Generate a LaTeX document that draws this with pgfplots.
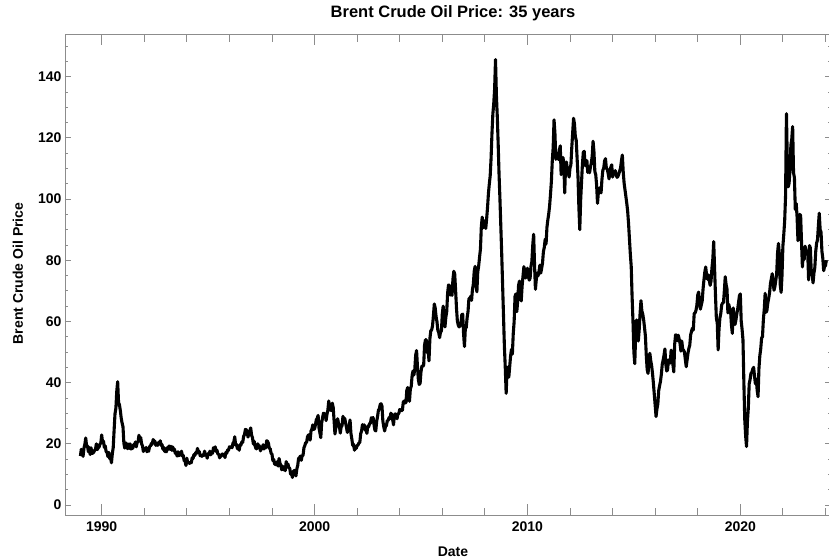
\documentclass[border=0pt]{standalone}
\usepackage{fontspec}
\setmainfont{Liberation Sans}
\usepackage{pgfplots}
\pgfplotsset{compat=1.18}
\usepackage{pgfplotstable}

\definecolor{framegray}{gray}{0.55}

% Brent crude, two readings per month (first and second half), Jan 1989 - Jan 2024
% one line per year
\pgfplotstableread[row sep=\\, header=false]{
16.0\\18.2\\17.1\\15.9\\18.6\\19.8\\21.9\\19.2\\19.3\\17.4\\18.8\\16.5\\18.7\\16.8\\17.0\\17.2\\17.9\\18.2\\20.0\\18.1\\18.7\\18.9\\19.9\\20.2\\
22.9\\20.4\\20.9\\18.8\\19.3\\17.4\\17.3\\15.8\\17.2\\15.2\\15.4\\13.8\\16.8\\18.8\\24.5\\29.8\\31.6\\37.2\\40.3\\33.5\\32.8\\30.9\\28.4\\26.8\\
25.6\\20.2\\18.6\\20.3\\20.0\\18.4\\19.9\\18.5\\20.0\\18.3\\18.5\\18.5\\19.7\\19.4\\20.6\\19.0\\20.5\\20.6\\22.8\\21.6\\22.0\\20.0\\19.3\\17.5\\
18.4\\18.1\\18.8\\17.4\\17.8\\17.6\\19.2\\19.2\\20.1\\19.9\\21.4\\20.9\\20.9\\19.5\\19.8\\19.5\\20.4\\20.1\\21.0\\19.5\\19.8\\18.2\\18.8\\17.5\\
17.5\\17.4\\18.8\\18.2\\19.3\\18.2\\19.2\\17.9\\19.0\\17.8\\18.3\\16.9\\17.2\\16.0\\17.4\\16.1\\16.5\\16.3\\17.6\\16.0\\16.2\\14.4\\14.4\\12.9\\
15.3\\13.7\\14.0\\13.6\\13.9\\13.8\\15.4\\15.2\\16.5\\16.2\\17.1\\16.9\\18.5\\17.2\\17.5\\16.1\\16.2\\15.9\\16.4\\16.2\\17.6\\16.3\\16.5\\15.3\\
16.8\\16.5\\17.6\\16.4\\17.1\\16.9\\18.7\\18.5\\19.0\\17.5\\17.9\\16.6\\16.6\\15.4\\16.3\\16.0\\16.7\\16.4\\16.6\\15.5\\17.2\\16.9\\18.0\\17.9\\
19.0\\18.9\\19.1\\18.7\\20.2\\20.6\\22.3\\19.6\\19.8\\18.4\\19.0\\17.9\\19.7\\19.6\\20.6\\20.5\\22.4\\23.0\\24.7\\24.6\\23.8\\22.2\\23.9\\24.2\\
25.2\\22.8\\22.0\\19.9\\20.8\\19.2\\18.4\\18.4\\20.0\\19.0\\19.3\\17.7\\18.7\\18.4\\19.7\\18.3\\19.0\\18.7\\21.0\\20.8\\20.2\\18.5\\18.4\\16.9\\
16.6\\14.5\\14.9\\13.3\\13.3\\13.1\\14.2\\12.7\\15.2\\13.6\\13.0\\11.5\\12.7\\11.5\\12.5\\11.2\\14.2\\12.7\\13.4\\12.2\\12.0\\10.1\\10.5\\9.0\\
11.0\\11.2\\11.3\\9.5\\11.8\\12.9\\15.3\\15.4\\16.0\\14.6\\16.1\\16.2\\18.7\\19.4\\20.4\\20.4\\22.3\\22.8\\23.0\\21.2\\24.2\\24.8\\26.2\\24.7\\
24.9\\26.2\\27.9\\28.3\\29.3\\25.2\\23.6\\22.0\\26.8\\28.5\\30.0\\29.9\\29.5\\27.6\\29.7\\31.0\\34.0\\31.4\\30.9\\31.0\\33.3\\31.9\\27.6\\23.2\\
25.3\\26.0\\28.2\\26.7\\25.7\\23.5\\25.6\\25.9\\29.0\\27.7\\28.3\\26.8\\25.3\\23.7\\25.7\\25.8\\27.8\\23.4\\21.6\\19.5\\19.8\\17.9\\19.1\\18.5\\
19.5\\19.6\\20.3\\20.4\\23.3\\24.2\\26.3\\25.0\\26.2\\24.5\\24.7\\23.4\\25.8\\25.6\\26.6\\26.7\\28.5\\28.3\\28.6\\26.3\\24.5\\24.2\\27.3\\28.9\\
31.0\\31.4\\32.9\\33.1\\32.3\\27.4\\25.6\\24.2\\25.8\\25.9\\27.6\\27.6\\28.6\\28.2\\30.0\\29.6\\28.0\\26.2\\29.4\\29.8\\29.3\\28.2\\29.8\\29.9\\
31.2\\31.1\\30.9\\30.9\\33.6\\34.0\\33.4\\33.4\\37.5\\38.4\\36.5\\33.9\\38.0\\38.8\\42.4\\43.8\\42.5\\44.4\\49.0\\50.5\\45.2\\41.0\\39.4\\39.8\\
43.6\\45.4\\45.3\\45.7\\52.2\\54.0\\54.0\\49.8\\50.9\\47.1\\54.3\\56.9\\57.2\\58.6\\61.9\\65.7\\64.4\\61.6\\59.9\\57.1\\56.3\\54.7\\56.6\\56.8\\
62.4\\65.0\\61.6\\58.2\\61.4\\63.2\\69.2\\71.9\\71.8\\68.6\\71.2\\68.5\\73.8\\76.4\\75.5\\70.2\\64.4\\60.1\\58.8\\58.2\\58.6\\59.4\\62.2\\62.4\\
56.0\\51.8\\57.8\\58.0\\61.2\\63.2\\67.4\\67.6\\68.2\\66.9\\70.4\\72.2\\76.4\\78.0\\71.9\\69.7\\76.2\\78.1\\81.0\\83.6\\90.9\\94.1\\90.6\\92.7\\
92.9\\90.4\\93.6\\97.2\\101.8\\104.9\\107.6\\113.3\\121.4\\127.8\\131.2\\136.0\\145.6\\134.0\\127.0\\118.0\\108.0\\100.0\\91.0\\82.0\\72.0\\62.0\\52.0\\45.0\\
36.5\\44.0\\45.1\\41.8\\45.3\\48.7\\50.9\\49.3\\56.0\\59.9\\68.2\\69.0\\63.2\\66.6\\71.8\\73.2\\68.7\\66.7\\71.6\\74.8\\77.9\\76.1\\74.2\\75.2\\
77.4\\75.0\\73.5\\74.1\\78.0\\79.6\\85.0\\88.5\\78.5\\70.5\\73.8\\75.8\\74.9\\76.3\\78.4\\75.8\\77.3\\79.1\\82.8\\84.2\\86.9\\85.3\\90.8\\93.2\\
95.2\\97.8\\101.6\\105.8\\112.4\\116.8\\125.9\\121.5\\113.0\\114.0\\114.9\\112.9\\116.0\\117.4\\108.0\\112.4\\113.6\\112.0\\102.0\\110.8\\112.1\\109.5\\108.6\\107.2\\
110.2\\111.2\\116.9\\121.7\\126.4\\124.6\\120.4\\119.2\\113.3\\107.3\\97.3\\90.0\\99.6\\105.6\\111.5\\115.3\\115.6\\111.2\\110.8\\112.6\\108.7\\109.5\\108.6\\110.4\\
111.8\\114.0\\118.9\\115.4\\109.0\\108.0\\104.5\\98.6\\102.3\\102.9\\103.8\\102.0\\106.4\\109.4\\110.1\\112.5\\113.2\\110.0\\109.8\\108.4\\106.6\\109.0\\110.4\\111.2\\
107.2\\108.9\\108.5\\109.3\\107.9\\107.1\\107.4\\108.2\\109.2\\110.2\\112.6\\114.4\\108.8\\105.2\\103.0\\100.8\\98.6\\96.0\\92.0\\87.0\\82.0\\78.0\\68.0\\60.0\\
50.0\\46.2\\55.6\\60.5\\58.2\\53.6\\57.4\\62.6\\66.8\\63.4\\62.4\\60.6\\58.0\\55.2\\48.8\\44.2\\43.0\\47.3\\49.6\\47.2\\45.6\\43.0\\39.8\\36.2\\
32.6\\28.9\\31.4\\33.0\\37.4\\39.0\\40.4\\42.8\\46.0\\47.4\\49.0\\51.0\\46.0\\43.8\\44.2\\47.4\\46.8\\46.4\\50.6\\48.4\\45.9\\43.5\\52.6\\55.6\\
55.5\\53.7\\55.5\\54.3\\52.9\\50.3\\53.6\\51.0\\50.6\\50.0\\47.6\\45.2\\47.4\\49.6\\51.2\\52.2\\55.6\\56.8\\57.8\\57.2\\62.6\\62.8\\63.6\\65.2\\
68.6\\69.6\\66.6\\64.0\\65.4\\66.6\\70.6\\73.6\\76.2\\77.8\\75.0\\73.8\\75.2\\73.4\\71.8\\73.2\\77.4\\80.4\\86.1\\77.2\\68.6\\61.0\\59.6\\50.7\\
57.6\\61.2\\62.6\\65.4\\66.0\\66.2\\70.0\\74.6\\72.0\\70.6\\62.8\\65.6\\64.2\\63.6\\58.8\\56.1\\64.4\\61.2\\59.0\\60.4\\62.4\\64.0\\66.2\\68.4\\
69.0\\60.2\\57.4\\54.0\\40.2\\28.0\\22.6\\19.1\\27.2\\31.6\\39.6\\41.0\\43.0\\43.4\\44.4\\45.0\\42.2\\39.6\\41.2\\37.5\\35.4\\44.6\\48.8\\51.0\\
54.6\\55.0\\60.6\\64.0\\69.2\\63.0\\63.6\\66.0\\67.6\\69.4\\72.4\\74.0\\75.6\\72.8\\70.2\\71.4\\73.4\\75.6\\82.4\\85.5\\82.0\\72.0\\69.5\\75.0\\
84.6\\88.4\\92.8\\101.0\\127.9\\112.0\\104.0\\105.2\\109.5\\117.6\\119.6\\123.7\\108.6\\107.0\\96.6\\98.6\\94.2\\86.4\\92.8\\95.0\\94.6\\86.0\\77.8\\82.4\\
80.2\\84.6\\83.4\\82.0\\82.6\\73.6\\84.8\\84.0\\76.0\\75.2\\72.6\\75.8\\77.6\\82.8\\85.6\\86.6\\91.2\\95.4\\90.0\\89.2\\83.0\\80.6\\76.6\\78.0\\
78.2\\80.0\\
}\brent

\pgfplotsset{
  brentframe/.style={
    scale only axis,
    width=766bp, height=480.7bp,
    xmin=1988.276, xmax=2024.26,
    ymin=-3.27, ymax=153.86,
    axis line style={framegray, line width=0.8bp},
    tick style={framegray, line width=0.8bp},
    tick align=inside,
    /pgf/number format/1000 sep={},
    /pgf/number format/assume math mode=true,
    every tick label/.append style={font=\fontsize{14bp}{16bp}\selectfont\bfseries, text=black},
  }
}

\begin{document}
\begin{tikzpicture}
\path[use as bounding box] (-65bp,-45bp) rectangle (764bp,515bp);

% frame, date ticks, title and x label
\begin{axis}[
  brentframe,
  xtick={1990,2000,2010,2020},
  minor xtick={1990,1992,...,2024},
  ytick=\empty,
  major tick length=11bp,
  minor tick length=7.5bp,
  xticklabel style={yshift=-3bp},
  title={Brent Crude Oil Price: 35 years},
  title style={font=\fontsize{16.5bp}{19bp}\selectfont\bfseries,
    at={(axis description cs:0.5065,1)}, anchor=base, yshift=11.3bp},
  xlabel={Date},
  xlabel style={font=\fontsize{14bp}{16bp}\selectfont\bfseries,
    at={(axis description cs:0.5065,0)}, anchor=base, yshift=-41bp},
]
\end{axis}

% price ticks, y label and the series
\begin{axis}[
  brentframe,
  axis line style={draw=none},
  xtick=\empty,
  ytick={0,20,...,140},
  minor ytick={0,5,...,150},
  major tick length=6bp,
  minor tick length=3.5bp,
  ylabel={Brent Crude Oil Price},
  ylabel style={font=\fontsize{14bp}{16bp}\selectfont\bfseries,
    at={(axis description cs:-0.0614,0.5026)}, anchor=center},
]
\addplot[black, line width=3.1bp, line join=round, no markers]
  table[x expr=1989+\coordindex/24, y index=0] {\brent};
\end{axis}
\end{tikzpicture}
\end{document}
